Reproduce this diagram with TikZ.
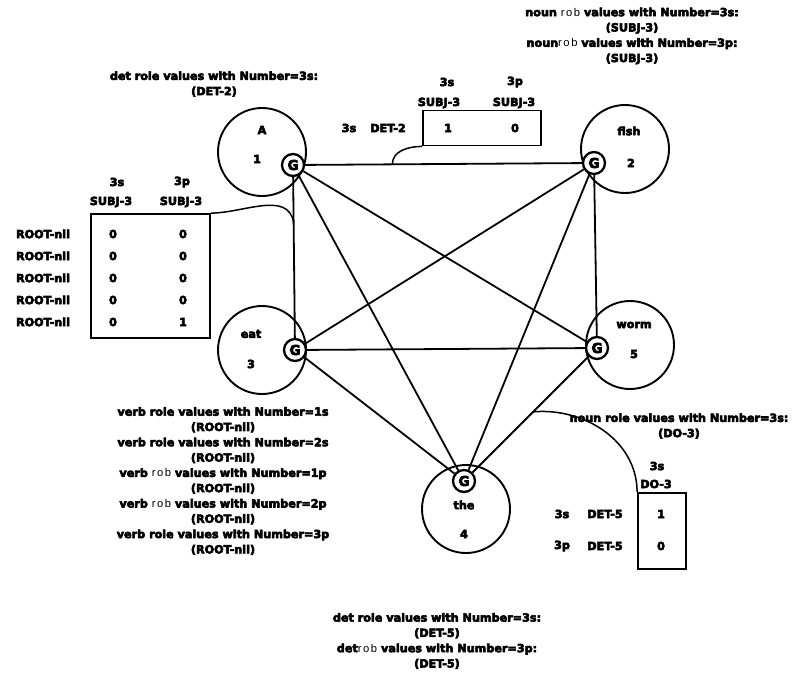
\documentclass[tikz,border=0pt]{standalone}
\usepackage{fontspec}
\setmainfont{DejaVu Sans}[BoldFeatures={FakeBold=5}]
\newfontfamily\robfont{Liberation Sans}[LetterSpace=14]
\usetikzlibrary{calc}
\newcommand\robw{{\mdseries\robfont rob}}
\begin{document}
\begin{tikzpicture}[x=1pt,y=-1pt,
  lbl/.style={font=\bfseries\fontsize{11.2}{15.3}\selectfont, inner sep=0pt, align=center},
  big/.style={draw, circle, line width=1.9pt, minimum size=88pt, inner sep=0pt},
  gnode/.style={draw, circle, line width=2.3pt, minimum size=22pt, inner sep=0pt, fill=white, font=\bfseries\fontsize{13.5}{13.5}\selectfont},
  edge/.style={line width=1.8pt},
  tbl/.style={draw, line width=1.8pt, inner sep=0pt},
  conn/.style={line width=1.5pt},
  ]
\useasboundingbox (0,0) rectangle (799,677);
% big word circles
\node[big] (cA) at (262,152) {};
\node[big] (cF) at (625,149) {};
\node[big] (cE) at (262,350) {};
\node[big] (cW) at (630,345) {};
\node[big] (cT) at (466,509) {};
\node[lbl] (tA) at (262,130) {A};
\node[lbl] (nA) at (257,159) {1};
\node[lbl] (tF) at (629,131) {fish};
\node[lbl] (nF) at (631,163) {2};
\node[lbl] (tE) at (251,334) {eat};
\node[lbl] (nE) at (251,364) {3};
\node[lbl] (tW) at (634,325) {worm};
\node[lbl] (nW) at (634,354) {5};
\node[lbl] (tT) at (464,505) {the};
\node[lbl] (nT) at (464,534) {4};
% G nodes
\node[gnode] (GA) at (293,165) {G};
\node[gnode] (GF) at (594,163) {G};
\node[gnode] (GE) at (295,350) {G};
\node[gnode] (GW) at (597,348) {G};
\node[gnode] (GT) at (464,481) {G};
% complete graph
\draw[edge] (GA) -- (GF);
\draw[edge] (GA) -- (GE);
\draw[edge] (GA) -- (GW);
\draw[edge] (GA) -- (GT);
\draw[edge] (GF) -- (GE);
\draw[edge] (GF) -- (GW);
\draw[edge] (GF) -- (GT);
\draw[edge] (GE) -- (GW);
\draw[edge] (GE) -- (GT);
\draw[edge] (GW) -- (GT);
% top right text
\node[lbl] (ntop) at (632,36) {noun \robw{} values with Number=3s:\\(SUBJ-3)\\noun\robw{} values with Number=3p:\\(SUBJ-3)};
% top left text
\node[lbl] (dtop) at (214,84) {det role values with Number=3s:\\(DET-2)};
% top table
\node[lbl] (t1h1) at (447,82) {3s};
\node[lbl] (t1h2) at (515,82) {3p};
\node[lbl] (t1s1) at (439,103) {SUBJ-3};
\node[lbl] (t1s2) at (514,103) {SUBJ-3};
\node[tbl, minimum width=118pt, minimum height=35pt] (tb1) at (482,128) {};
\node[lbl] (t1v1) at (448,128) {1};
\node[lbl] (t1v2) at (515,128) {0};
\node[lbl] (t1r1) at (349,128) {3s};
\node[lbl] (t1r2) at (388,128) {DET-2};
\coordinate (p1) at ($(GA)!0.33!(GF)$);
\draw[conn] (tb1.south west) to[out=180,in=90] (p1);
% left table
\node[lbl] (t2h1) at (117,182) {3s};
\node[lbl] (t2h2) at (182,182) {3p};
\node[lbl] (t2s1) at (111,202) {SUBJ-3};
\node[lbl] (t2s2) at (181,202) {SUBJ-3};
\node[tbl, minimum width=119pt, minimum height=124pt] (tb2) at (150.5,276) {};
\foreach \y/\v [count=\i] in {234/0,256/0,278/0,300/0,322/1}{
  \node[lbl] (t2r\i) at (43,\y) {ROOT-nil};
  \node[lbl] (t2a\i) at (113,\y) {0};
  \node[lbl] (t2b\i) at (183,\y) {\v};
}
\coordinate (p2) at ($(GA)!0.31!(GE)$);
\draw[conn] (tb2.north east) to[out=0,in=100] (p2);
% verb text
\node[lbl] (vtxt) at (223,481) {verb role values with Number=1s\\(ROOT-nil)\\verb role values with Number=2s\\(ROOT-nil)\\verb \robw{} values with Number=1p\\(ROOT-nil)\\verb \robw{} values with Number=2p\\(ROOT-nil)\\verb role values with Number=3p\\(ROOT-nil)};
% bottom right
\node[lbl] (ntxt) at (679,426) {noun role values with Number=3s:\\(DO-3)};
\node[lbl] (t3h1) at (657,466) {3s};
\node[lbl] (t3s1) at (656,484) {DO-3};
\node[tbl, minimum width=48pt, minimum height=76pt] (tb3) at (662,531) {};
\node[lbl] (t3v1) at (661,514) {1};
\node[lbl] (t3v2) at (661,546) {0};
\node[lbl] (t3r1) at (562,514) {3s};
\node[lbl] (t3d1) at (605,514) {DET-5};
\node[lbl] (t3r2) at (562,546) {3p};
\node[lbl] (t3d2) at (605,546) {DET-5};
\coordinate (p3) at ($(GW)!0.48!(GT)$);
\draw[conn] (p3) to[out=5,in=90] (tb3.north west);
% bottom text
\node[lbl] (btxt) at (437,641) {det role values with Number=3s:\\(DET-5)\\det\robw{} values with Number=3p:\\(DET-5)};
\end{tikzpicture}
\end{document}
